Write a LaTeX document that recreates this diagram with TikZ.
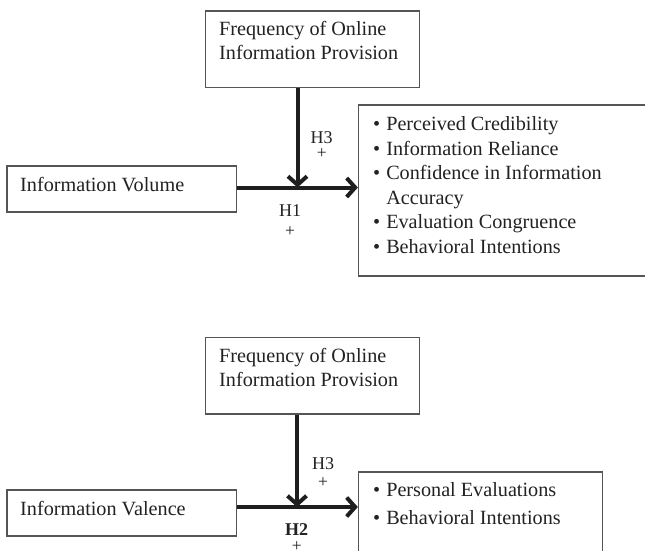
\documentclass[tikz,border=0pt]{standalone}
\usepackage{fontspec}
\setmainfont{Liberation Serif}
\usetikzlibrary{arrows.meta}
\definecolor{boxgray}{HTML}{555555}
\definecolor{textcol}{HTML}{222222}
\definecolor{arrcol}{HTML}{1E1E1E}
\begin{document}
\begin{tikzpicture}[x=1pt,y=-1pt,
  box/.style={draw=boxgray, line width=1.3pt, rectangle, inner sep=0pt},
  txt/.style={inner sep=0pt, anchor=base west, text=textcol, font=\fontsize{20.2}{24}\selectfont},
  hyp/.style={inner sep=0pt, anchor=base, text=textcol, font=\fontsize{18}{20}\selectfont},
  sign/.style={inner sep=0pt, anchor=center, text=textcol, font=\fontsize{17.5}{20}\selectfont},
  arr/.style={line width=4pt, draw=arrcol, -{Straight Barb[length=8.5pt,width=19pt]}}]
\clip (0,0) rectangle (645,551);
\fill[white] (0,0) rectangle (645,551);

% ---------- top model ----------
\node[box, minimum width=213.9pt, minimum height=76.5pt] (f1) at (312.65,49.25) {};
\node[txt] (f1t) at (219,36) {\begin{tabular}[t]{@{}l@{}}Frequency of Online\\Information Provision\end{tabular}};
\node[box, minimum width=229.5pt, minimum height=46pt] (vol) at (121.75,189) {};
\node[txt] (volt) at (20,191) {Information Volume};
\node[box, minimum width=291.5pt, minimum height=171pt] (out1) at (504.25,190.5) {};
\node[txt, font=\fontsize{20.2}{24.5}\selectfont] (out1t) at (373,130.7) {\begin{tabular}[t]{@{}l@{\hspace{6pt}}l@{}}
\textbullet & Perceived Credibility\\
\textbullet & Information Reliance\\
\textbullet & Confidence in Information\\
 & Accuracy\\
\textbullet & Evaluation Congruence\\
\textbullet & Behavioral Intentions
\end{tabular}};
\coordinate (j1) at (297.5,187.5);
\draw[arr] (f1.south -| j1) -- (j1);
\draw[arr] (vol.east |- j1) -- (out1.west |- j1);
\node[hyp] (h3a) at (321.7,143) {H3};
\node[sign] (p3a) at (321.7,154) {+};
\node[hyp] (h1) at (290,216.7) {H1};
\node[sign] (p1) at (290,231.5) {+};

% ---------- bottom model ----------
\node[box, minimum width=213.9pt, minimum height=76.7pt] (f2) at (312.65,375.65) {};
\node[txt] (f2t) at (219,362) {\begin{tabular}[t]{@{}l@{}}Frequency of Online\\Information Provision\end{tabular}};
\node[box, minimum width=229.5pt, minimum height=46pt] (val) at (121.75,513) {};
\node[txt] (valt) at (20,515) {Information Valence};
\node[box, minimum width=244.2pt, minimum height=88pt] (out2) at (480.6,516) {};
\node[txt, font=\fontsize{20.2}{27.3}\selectfont] (out2t) at (373,496.7) {\begin{tabular}[t]{@{}l@{\hspace{6pt}}l@{}}
\textbullet & Personal Evaluations\\
\textbullet & Behavioral Intentions
\end{tabular}};
\coordinate (j2) at (297,507);
\draw[arr] (f2.south -| j2) -- (j2);
\draw[arr] (val.east |- j2) -- (out2.west |- j2);
\node[hyp] (h3b) at (323,469.5) {H3};
\node[sign] (p3b) at (323,482.5) {+};
\node[hyp, font=\fontsize{18}{20}\selectfont\bfseries] (h2) at (296.7,535) {H2};
\node[sign] (p2) at (296.7,546.7) {+};
\end{tikzpicture}
\end{document}
